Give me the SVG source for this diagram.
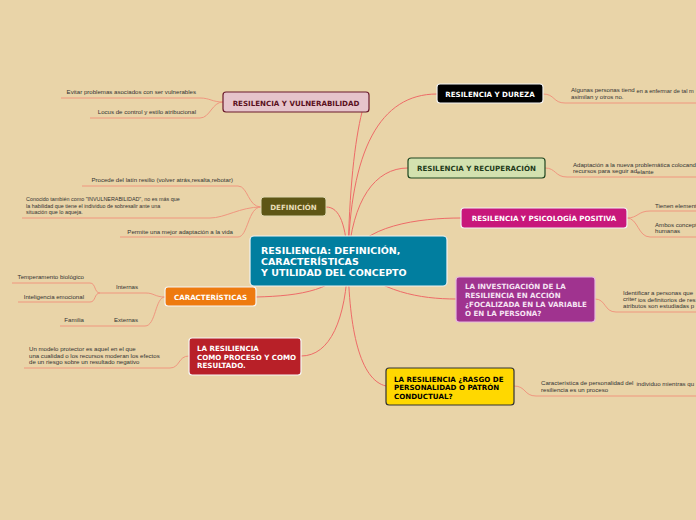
<svg xmlns="http://www.w3.org/2000/svg" width="696" height="520" viewBox="0 0 696 520">
<style>
.bg{fill:#E9D4A8}
.c{fill:none;stroke:#EE6B68;stroke-width:1}
.l{fill:none;stroke:#F0967F;stroke-width:1}
.n{font-family:"DejaVu Sans",Verdana,sans-serif;font-weight:bold;font-size:7.1px}
.lf{font-family:"Liberation Sans",Arial,sans-serif;font-size:6.1px;fill:#333}
.sm{font-size:5.4px}
.e{text-anchor:end}
.m{text-anchor:middle}
</style>
<rect class="bg" x="0" y="0" width="696" height="520"/>
<g id="connectors">
<path class="c" d="M348,261 C349,190 355,140 362,112"/>
<path class="c" d="M348,261 C350,150 380,94 437,94"/>
<path class="c" d="M348,261 C352,200 375,168 408,168"/>
<path class="c" d="M348,261 C360,225 420,218 461,218"/>
<path class="c" d="M326,207 C340,207 346,225 348,261"/>
<path class="c" d="M256,297 C300,296 340,290 348,261"/>
<path class="c" d="M301,356 C330,356 346,320 348,261"/>
<path class="c" d="M386,386 C360,380 349,330 348,261"/>
<path class="c" d="M456,299 C420,299 380,292 348,261"/>
<path class="l" d="M223,102 C212,102 210,98 200,98 L61,98"/>
<path class="l" d="M223,102 C212,102 210,118 200,118 L90,118"/>
<path class="l" d="M261,207 C248,207 248,186 238,186 L82,186"/>
<path class="l" d="M261,207 C240,207 225,218 210,218 L22,218"/>
<path class="l" d="M261,207 C248,207 248,237 238,237 L120,237"/>
<path class="l" d="M165,297 C155,297 154,293 146,293 L100,293"/>
<path class="l" d="M165,297 C155,297 156,326 145,326 L60,326"/>
<path class="l" d="M100,293 C94,293 96,283 90,283 L12,283"/>
<path class="l" d="M100,293 C94,293 96,302 90,302 L18,302"/>
<path class="l" d="M189,356 C178,356 180,368 170,368 L24,368"/>
<path class="l" d="M543,94 C555,94 553,103 565,103 L696,103"/>
<path class="l" d="M545,168 C556,168 555,177 567,177 L696,177"/>
<path class="l" d="M627,218 C638,218 638,211 650,211 L696,211"/>
<path class="l" d="M627,218 C638,218 638,237 650,237 L696,237"/>
<path class="l" d="M595,299 C606,299 604,312 616,312 L696,312"/>
<path class="l" d="M514,386 C526,386 524,396 536,396 L696,396"/>
</g>
<g id="root">
<rect x="250" y="236" width="197" height="50" rx="4" fill="#017E9F" stroke="#F2F2F2" stroke-width="1.2"/>
<text class="n" x="261" y="253.5" fill="#fff" style="font-size:9.5px">RESILIENCIA: DEFINICIÓN,</text>
<text class="n" x="261" y="264.5" fill="#fff" style="font-size:9.5px">CARACTERÍSTICAS</text>
<text class="n" x="261" y="275.5" fill="#fff" style="font-size:9.5px">Y UTILIDAD DEL CONCEPTO</text>
</g>
<g id="vulnerabilidad">
<rect x="223" y="92" width="146" height="20" rx="3" fill="#E6C4CB" stroke="#6A1A2C" stroke-width="1.2"/>
<text class="n m" x="296" y="105.5" fill="#5A1020">RESILENCIA Y VULNERABILIDAD</text>
<text class="lf e" x="196" y="94">Evitar problemas asociados con ser vulnerables</text>
<text class="lf e" x="196" y="114">Locus de control y estilo atribucional</text>
</g>
<g id="dureza">
<rect x="437" y="84" width="106" height="19" rx="3" fill="#000" stroke="#F2F2F2" stroke-width="1.2"/>
<text class="n m" x="490" y="96.5" fill="#fff">RESILENCIA Y DUREZA</text>
<text class="lf" x="571" y="92">Algunas personas tiend</text>
<text class="lf" x="636.5" y="93" style="font-size:5.7px">en a enfermar de tal m</text>
<text class="lf" x="571" y="99">asimilan y otros no.</text>
</g>
<g id="recuperacion">
<rect x="408" y="158" width="137" height="20" rx="3" fill="#D3E1AF" stroke="#1E4620" stroke-width="1.2"/>
<text class="n m" x="476.5" y="170.5" fill="#1E3A1A">RESILENCIA Y RECUPERACIÓN</text>
<text class="lf" x="573" y="166.5">Adaptación a la nueva problemática colocand</text>
<text class="lf" x="573" y="173">recursos para seguir ad</text>
<text class="lf" x="637" y="174">elante</text>
</g>
<g id="psicologia">
<rect x="461" y="208" width="166" height="20" rx="3" fill="#C8177B" stroke="#F2F2F2" stroke-width="1.2"/>
<text class="n m" x="544" y="220.5" fill="#fff">RESILENCIA Y PSICOLOGÍA POSITIVA</text>
<text class="lf" x="655" y="207.5">Tienen element</text>
<text class="lf" x="655" y="226.5">Ambos concept</text>
<text class="lf" x="655" y="233">humanas</text>
</g>
<g id="investigacion">
<rect x="456" y="277" width="139" height="45" rx="3" fill="#A0338F" stroke="#E8B8E0" stroke-width="1.2"/>
<text class="n" x="465" y="289" fill="#F6E4F4">LA INVESTIGACIÓN DE LA</text>
<text class="n" x="465" y="298" fill="#F6E4F4">RESILIENCIA EN ACCIÓN</text>
<text class="n" x="465" y="307" fill="#F6E4F4">¿FOCALIZADA EN LA VARIABLE</text>
<text class="n" x="465" y="316" fill="#F6E4F4">O EN LA PERSONA?</text>
<text class="lf" x="623" y="294.5">Identificar a personas que</text>
<text class="lf" x="623" y="300.5">criter</text>
<text class="lf" x="638" y="301.5">ios definitorios de res</text>
<text class="lf" x="623" y="308">atributos son estudiadas p</text>
</g>
<g id="rasgo">
<rect x="386" y="368" width="128" height="37" rx="3" fill="#FFD800" stroke="#333" stroke-width="1.2"/>
<text class="n" x="394" y="381.5" fill="#000">LA RESILIENCIA ¿RASGO DE</text>
<text class="n" x="394" y="390" fill="#000">PERSONALIDAD O PATRÓN</text>
<text class="n" x="394" y="398.5" fill="#000">CONDUCTUAL?</text>
<text class="lf" x="541" y="384.5">Característica de personalidad del</text>
<text class="lf" x="636.5" y="385.5">individuo mientras qu</text>
<text class="lf" x="541" y="391.5">resiliencia es un proceso</text>
</g>
<g id="definicion">
<rect x="261" y="197" width="65" height="19" rx="3" fill="#5E5615" stroke="#E0D8B0" stroke-width="1"/>
<text class="n m" x="293.5" y="209.5" fill="#E8DEB8">DEFINICIÓN</text>
<text class="lf e" x="233" y="182">Procede del latín resilio (volver atrás,resalta,rebotar)</text>
<text class="lf sm" x="26" y="201">Conocido también como "INVULNERABILIDAD", no es más que</text>
<text class="lf sm" x="26" y="207.5">la habilidad que tiene el individuo de sobresalir ante una</text>
<text class="lf sm" x="26" y="214">situación que lo aqueja.</text>
<text class="lf e" x="233" y="234">Permite una mejor adaptación a la vida</text>
</g>
<g id="caracteristicas">
<rect x="165" y="287" width="91" height="19" rx="3" fill="#EE7A0F" stroke="#F6F6F6" stroke-width="1.2"/>
<text class="n m" x="210.5" y="299.5" fill="#fff">CARACTERÍSTICAS</text>
<text class="lf e" x="138" y="289">Internas</text>
<text class="lf e" x="138" y="322">Externas</text>
<text class="lf e" x="84" y="279">Temperamento biológico</text>
<text class="lf e" x="84" y="299">Inteligencia emocional</text>
<text class="lf e" x="84" y="322">Familia</text>
</g>
<g id="proceso">
<rect x="189" y="338" width="112" height="37" rx="3" fill="#B82028" stroke="#F6F6F6" stroke-width="1.2"/>
<text class="n" x="197" y="350.5" fill="#fff">LA RESILIENCIA</text>
<text class="n" x="197" y="359.5" fill="#fff">COMO PROCESO Y COMO</text>
<text class="n" x="197" y="368" fill="#fff">RESULTADO.</text>
<text class="lf" x="29" y="351">Un modelo protector es aquel en el que</text>
<text class="lf" x="29" y="357.5">una cualidad o los recursos moderan los efectos</text>
<text class="lf" x="29" y="364">de un riesgo sobre un resultado negativo</text>
</g>
</svg>
